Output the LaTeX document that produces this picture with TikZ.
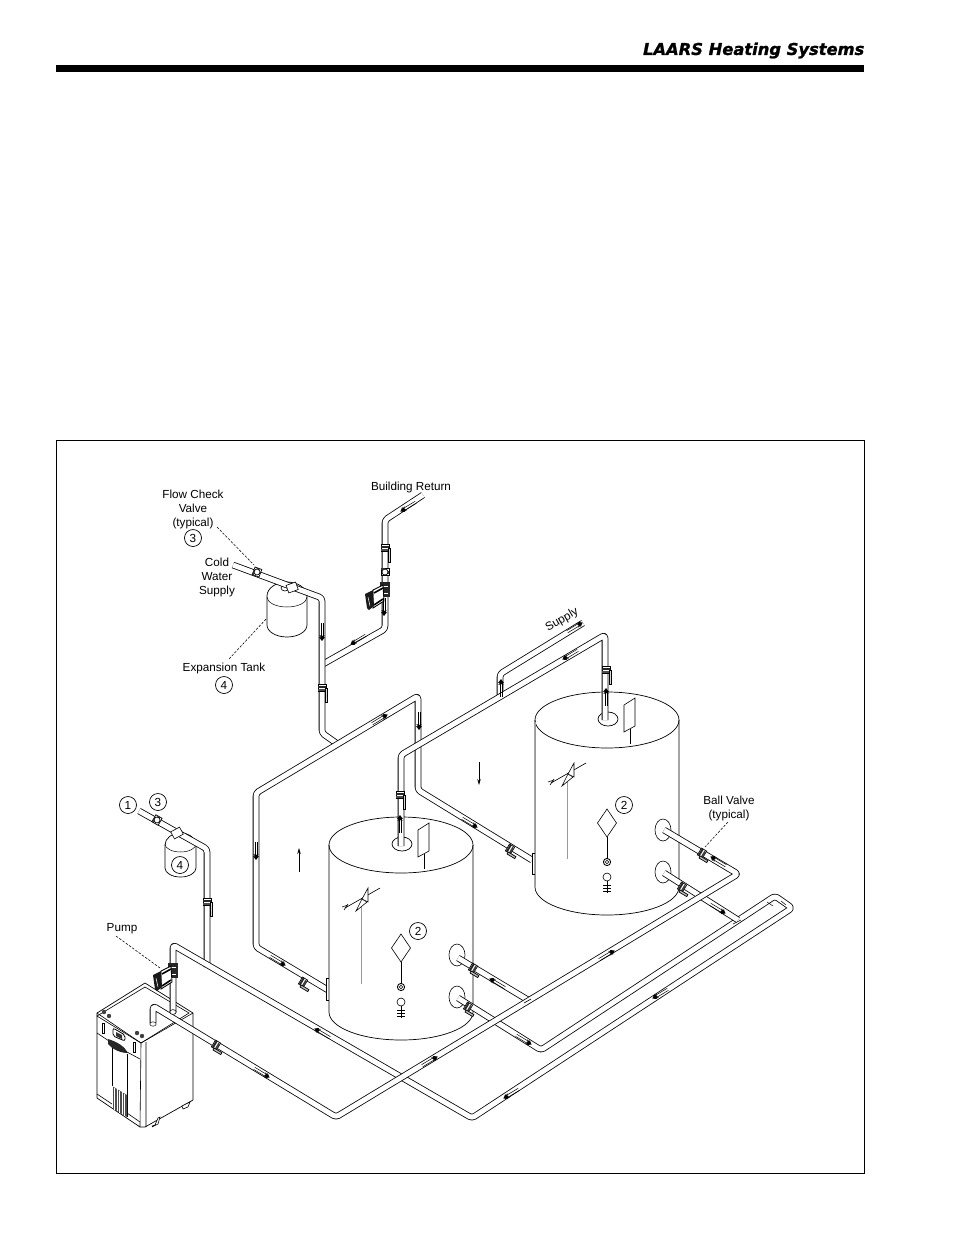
\documentclass[tikz,border=0pt]{standalone}
\usepackage{fontspec}
\setmainfont{Liberation Sans}
\newfontfamily\hdfont[FakeBold=1.3]{DejaVu Sans Bold Oblique}
\usetikzlibrary{arrows.meta}
\definecolor{greyline}{gray}{0.6}
\tikzset{
  pipe/.style={draw=black,line width=.8pt,double=white,double distance=5pt,rounded corners=3pt,line join=round},
  lbl/.style={inner sep=0pt,align=center,font=\fontsize{11.7}{14}\selectfont},
  num/.style={circle,draw,line width=.7pt,minimum size=17pt,inner sep=0pt,font=\fontsize{11.7}{14}\selectfont},
  leader/.style={draw,line width=.55pt,dash pattern=on 2.5pt off 1.5pt},
  flowarrow/.style={line width=.7pt,-{Stealth[length=6pt,width=3.5pt]}},
  flow/.pic={
    \draw[line width=.5pt] (-15,-1.2) -- (0,-1.2) (-15,1.2) -- (0,1.2);
    \fill[black] (3,0) -- (-1,-3) -- (-.5,-1) -- (-3,-2.6) -- (-2,0) -- (-3,2.6) -- (-.5,1) -- (-1,3) -- cycle;
  },
  vvalve/.pic={
    \draw[fill=white,line width=.7pt] (-3.5,-4) rectangle (3.5,4);
    \fill[black!85] (-2.5,-4) rectangle (-.5,4);
    \fill[black!70] (1,-4) rectangle (2.6,4);
    \draw[fill=black!15,line width=.7pt] (0,-3.6) rectangle (14,-5.8);
  },
  dvalve/.pic={
    \draw[fill=white,line width=.7pt] (-3,-4) rectangle (3,4);
    \fill[black!85] (-2.4,-4) rectangle (-.4,4);
    \fill[black!75] (.9,-3) rectangle (3,4);
    \draw[fill=black!25,line width=.7pt] (0,3.5) rectangle (9,5.8);
  },
  cvalve/.pic={
    \draw[fill=white,line width=.7pt] (-3.6,-4) rectangle (3.6,4);
    \fill[black!80] (-1.5,-4) rectangle (1.5,-1);
    \draw[fill=white,line width=.7pt] (0,0) circle [radius=3pt];
    \fill[black!80] (-3.6,0) rectangle (-2,4);
  },
  pump/.pic={
    \fill[black!85] (-5,-16) rectangle (5,-1);
    \draw[white,line width=.5pt] (-3,-12) -- (3,-12) (-3,-5) -- (3,-5);
    \draw[fill=white,line width=.9pt] (-12,-8) -- (-2,-13) -- (-1,3) -- (-12,10) -- cycle;
    \draw[line width=1.6pt] (-11,-5) -- (-2,-10) (-11,7) -- (-2,1);
    \fill[black!90] (-20,-4) -- (-12,-8) -- (-11,8) -- (-16,12) -- (-18,10) -- cycle;
    \draw[white,line width=.5pt] (-17,-1) -- (-15,8);
  },
  tankpic/.pic={
    \draw[fill=white,line width=.7pt] (-72,0) -- (-72,167)
      arc [start angle=180,end angle=360,x radius=72pt,y radius=28pt]
      -- (72,0)
      arc [start angle=0,end angle=180,x radius=72pt,y radius=28pt] -- cycle;
    \draw[line width=.7pt] (-72,0) arc [start angle=180,end angle=360,x radius=72pt,y radius=28pt];
    \draw[fill=white,line width=.7pt] (1,-1) ellipse [x radius=10pt,y radius=7pt];
    \draw[fill=white,line width=.6pt] (17,-15) -- (28,-22) -- (28,6) -- (17,12) -- cycle;
    \draw[line width=.6pt] (23,9) -- (23,24);
    \draw[greyline,line width=1pt] (-40,57) -- (-40,139);
    \draw[line width=.6pt] (-56,63) -- (-21,43);
    \draw[line width=.6pt] (-59,62) -- (-53,60) (-57,65) -- (-53,59);
    \draw[fill=white,line width=.6pt] (-45,66) -- (-39,54) -- (-34,57) -- cycle;
    \draw[fill=white,line width=.6pt] (-39,54) -- (-33,43) -- (-33,57) -- cycle;
    \draw[fill=white,line width=.6pt] (0,89) -- (9.5,103) -- (0,117) -- (-9.5,103) -- cycle;
    \draw[line width=.6pt] (0,117) -- (0,138);
    \draw[fill=white,line width=.9pt] (0,142) circle [radius=3.6pt];
    \draw[fill=white,line width=.5pt] (0,142) circle [radius=1.7pt];
    \draw[fill=white,line width=.6pt] (0,157) circle [radius=4pt];
    \draw[line width=.6pt] (0,161) -- (0,173) (-4,165) -- (4,165) (-4,168) -- (4,168) (-4,171) -- (4,171);
    \draw[fill=white,line width=.6pt] (56,110) ellipse [x radius=8pt,y radius=11pt];
    \draw[fill=white,line width=.6pt] (56,152) ellipse [x radius=8pt,y radius=11pt];
  }
}
\begin{document}
\begin{tikzpicture}[x=1pt,y=-1pt]
\useasboundingbox (0,0) rectangle (954,1235);

% header
\fill[black] (56,65) rectangle (864,72);
\node[anchor=east,inner sep=0pt] (head) at (864.5,50.5) {\hdfont\fontsize{16.3}{20}\selectfont LAARS Heating Systems};

% frame
\draw[line width=.8pt] (56,440) rectangle (864,1173);

% pipe joints
\coordinate (cw1) at (233,565);
\coordinate (cw2) at (322,598);
\coordinate (cw3) at (322,733);
\coordinate (mn0) at (339,745);
\coordinate (mn1) at (418,696);
\coordinate (mn2) at (418,790);
\coordinate (mn3) at (532,860);
\coordinate (ml1) at (256,793);
\coordinate (ml2) at (256,947);
\coordinate (ml3) at (328,990);
\coordinate (br1) at (423,495);
\coordinate (br2) at (385,520);
\coordinate (br3) at (385,629);
\coordinate (br4) at (323,664);
\coordinate (su1) at (401,846);
\coordinate (su2) at (401,755);
\coordinate (su3) at (605,635);
\coordinate (su4) at (605,720);
\coordinate (sb1) at (500,695);
\coordinate (sb2) at (500,674);
\coordinate (sb3) at (583,623);
\coordinate (sc1) at (139,811);
\coordinate (sc2) at (207,849);
\coordinate (sc3) at (207,967);
\coordinate (ot1) at (541,1050);
\coordinate (ot2) at (775,896);
\coordinate (ot3) at (792,908);
\coordinate (ot4) at (472,1118);
\coordinate (ot5) at (173,945);
\coordinate (ot6) at (173,1012);
\coordinate (ne1) at (336,1117);
\coordinate (ne2) at (738,874);
\coordinate (ne3) at (153,1006);
\coordinate (ne4) at (153,1023);
\coordinate (t1a) at (458,958);
\coordinate (t1b) at (528,1000);
\coordinate (t1c) at (458,998);
\coordinate (t2a) at (664,830);
\coordinate (t2c) at (664,873);
\coordinate (t2d) at (738,920);

% boiler
\draw[fill=white,line width=.7pt,line join=round] (145,983) -- (193,1013) -- (193,1100) -- (145,1127) -- (140,1127) -- (97,1098) -- (97,1013) -- cycle;
\draw[line width=.6pt] (97,1016) -- (145,987) -- (189,1013) -- (141,1043) -- cycle;
\draw[line width=.6pt] (97,1013) -- (141,1043) -- (193,1013);
\draw[line width=.6pt] (141,1043) -- (140,1127) (146,1042) -- (146,1127);
\draw[line width=.6pt] (97,1033) -- (112,1043) (127,1052) -- (140,1059);
\draw[line width=.6pt] (97,1094) -- (112,1104) (127,1113) -- (140,1122);
\draw[line width=.6pt] (112,1045) -- (112,1108) (127,1054) -- (127,1117);
\fill[black!70] (112,1086) -- (127,1095) -- (127,1117) -- (112,1108) -- cycle;
\foreach \k in {0,2.5,...,12.5} {\draw[white,line width=.35pt] (112+\k,1086+.6*\k) -- (112+\k,1108+.6*\k);}
\draw[fill=white,line width=.6pt] (102,1023) rectangle (104.5,1033);
\draw[fill=white,line width=.6pt] (133,1042) rectangle (135.5,1052);
\draw[fill=white,line width=.8pt,rounded corners=2pt] (113,1028) -- (125,1035) -- (125,1041) -- (113,1036) -- cycle;
\fill[black!80] (116,1032) -- (122,1035) -- (122,1039) -- (116,1036) -- cycle;
\fill[black!85] (108,1039) .. controls (118,1042) and (125,1047) .. (128,1053) .. controls (120,1053) and (112,1049) .. (108,1044) -- cycle;
\fill[black!75] (104,1012) circle [radius=2.2pt] (109,1016) circle [radius=2.2pt] (137,1033) circle [radius=2.2pt] (142,1036) circle [radius=2.2pt];
\draw[fill=white,line width=.6pt] (152,1126) -- (155,1125) -- (158,1118) -- (160,1117) -- (158,1124) -- (152,1127);
\draw[fill=white,line width=.6pt] (182,1106) -- (190,1102) -- (188,1107) -- (183,1109) -- cycle;

% big expansion tank
\draw[fill=white,line width=.7pt] (267,596) -- (267,625)
  arc [start angle=180,end angle=360,x radius=20pt,y radius=12pt] -- (307,596)
  arc [start angle=0,end angle=180,x radius=20pt,y radius=14pt];
\draw[line width=.5pt] (267,597) arc [start angle=180,end angle=360,x radius=20pt,y radius=10pt];
\draw[fill=white,line width=.6pt] (285,588) ellipse [x radius=4pt,y radius=3pt];
% small expansion tank
\draw[fill=white,line width=.7pt] (165,845) -- (165,868)
  arc [start angle=180,end angle=360,x radius=15.5pt,y radius=9pt] -- (196,845)
  arc [start angle=0,end angle=180,x radius=15.5pt,y radius=12pt];
\draw[line width=.5pt] (165,844) arc [start angle=180,end angle=360,x radius=15.5pt,y radius=8pt];

% pipes behind the tanks
\draw[pipe] (br4) -- (br3) -- (br2) -- (br1);
\draw[pipe] (cw1) -- (cw2) -- (cw3) -- (mn0);
\draw[pipe] (sc1) -- (sc2) -- (sc3);
\draw[pipe] (ml3) -- (ml2) -- (ml1) -- (mn1) -- (mn2) -- (mn3);
\draw[pipe] (sb1) -- (sb2) -- (sb3);

% tanks
\draw[fill=white,line width=.6pt] (326,978) rectangle (331,1000);
\draw[fill=white,line width=.6pt] (532,853) rectangle (537,874);
\pic at (401,845) {tankpic};
\node[num] (n2a) at (418,931) {2};
\pic at (607,720) {tankpic};
\node[num] (n2b) at (624,805) {2};
\draw[greyline,line width=.9pt] (535,722) -- (535,885);

% pipes to the tanks' tops
\draw[pipe] (su1) -- (su2) -- (su3) -- (su4);

% return side
\draw[pipe] (ot6) -- (ot5) -- (ot4) -- (ot3) -- (ot2) -- (ot1) -- (t1c);
\draw[pipe] (t2c) -- (t2d);
\draw[pipe] (t1a) -- (t1b);
\draw[pipe] (ne4) -- (ne3) -- (ne1) -- (ne2) -- (t2a);
\draw[line width=.6pt] (524,1003) -- (531,999) (733,924) -- (741,920);
\draw[fill=white,line width=.5pt] (153,1024) ellipse [x radius=3.2pt,y radius=2.2pt];
\draw[fill=white,line width=.6pt] (173,1012) ellipse [x radius=3.2pt,y radius=2.4pt];
\draw[line width=.5pt] (767,902) -- (773,906) (781,901) -- (786,905);

% small fittings on expansion lines
\draw[fill=white,line width=.6pt,rotate around={20:(292,587)}] (287,583.5) rectangle (297,591.5);
\draw[fill=white,line width=.6pt,rotate around={28:(177,833)}] (172,829) rectangle (182,837);

% ball valves
\foreach \p in {(207,902),(322,688),(385,548),(400,795),(606,670)} {\pic[rotate=-90] at \p {vvalve};}
\foreach \p in {(216,1045),(303,982),(510,849),(473,968),(468,1007),(702,853),(682,887)} {\pic[rotate=-31] at \p {dvalve};}
\pic[rotate=-20] at (257,572) {cvalve};
\pic[rotate=-30] at (157,820) {cvalve};
\pic[rotate=-90] at (385,572) {cvalve};

% pumps
\pic at (173,979) {pump};
\pic at (385,598) {pump};

% flow marks
\foreach \p/\a in {(403,510)/211,(353,643)/211,(385,716)/31,(475,826)/-31,(283,964)/-31,
  (317,1030)/149,(267,1076)/-31,(435,1058)/31,(506,1097)/211,(655,997)/211,(612,952)/31,
  (492,980)/149,(529,1043)/-31,(723,912)/-31,(713,858)/149,(565,658)/211,(580,624)/31,
  (322,638)/-90,(384,613)/-90,(419,727)/-90,(256,857)/-90,(501,682)/90,(606,691)/90,(400,818)/90}
  {\pic[rotate=\a] at \p {flow};}

% free arrows
\coordinate (fa1) at (299,872);
\coordinate (fa2) at (299,848);
\coordinate (fb1) at (479,762);
\coordinate (fb2) at (479,785);
\draw[flowarrow] (fa1) -- (fa2);
\draw[flowarrow] (fb1) -- (fb2);

% labels
\node[lbl] (lflow) at (193,509) {Flow Check\\Valve\\(typical)};
\node[num] (n3a) at (193,538) {3};
\node[lbl] (lret) at (411,487) {Building Return};
\node[lbl] (lcold) at (217,577) {Cold\\Water\\Supply};
\node[lbl] (lexp) at (224,668) {Expansion Tank};
\node[num] (n4a) at (224,685) {4};
\node[lbl,rotate=30] (lsup) at (562,620) {Supply};
\node[lbl] (lpump) at (122,929) {Pump};
\node[lbl] (lball) at (729,808) {Ball Valve\\(typical)};
\node[num] (n1) at (128,805) {1};
\node[num] (n3b) at (158,802) {3};
\node[num] (n4b) at (180,865) {4};

% leaders
\coordinate (l1) at (254,565);
\coordinate (l2) at (267,618);
\coordinate (l3) at (160,968);
\coordinate (l4) at (705,847);
\draw[leader] (217,527) -- (l1);
\draw[leader] (229,659) -- (l2);
\draw[leader] (116,936) -- (l3);
\draw[leader] (728,822) -- (l4);
\end{tikzpicture}
\end{document}
